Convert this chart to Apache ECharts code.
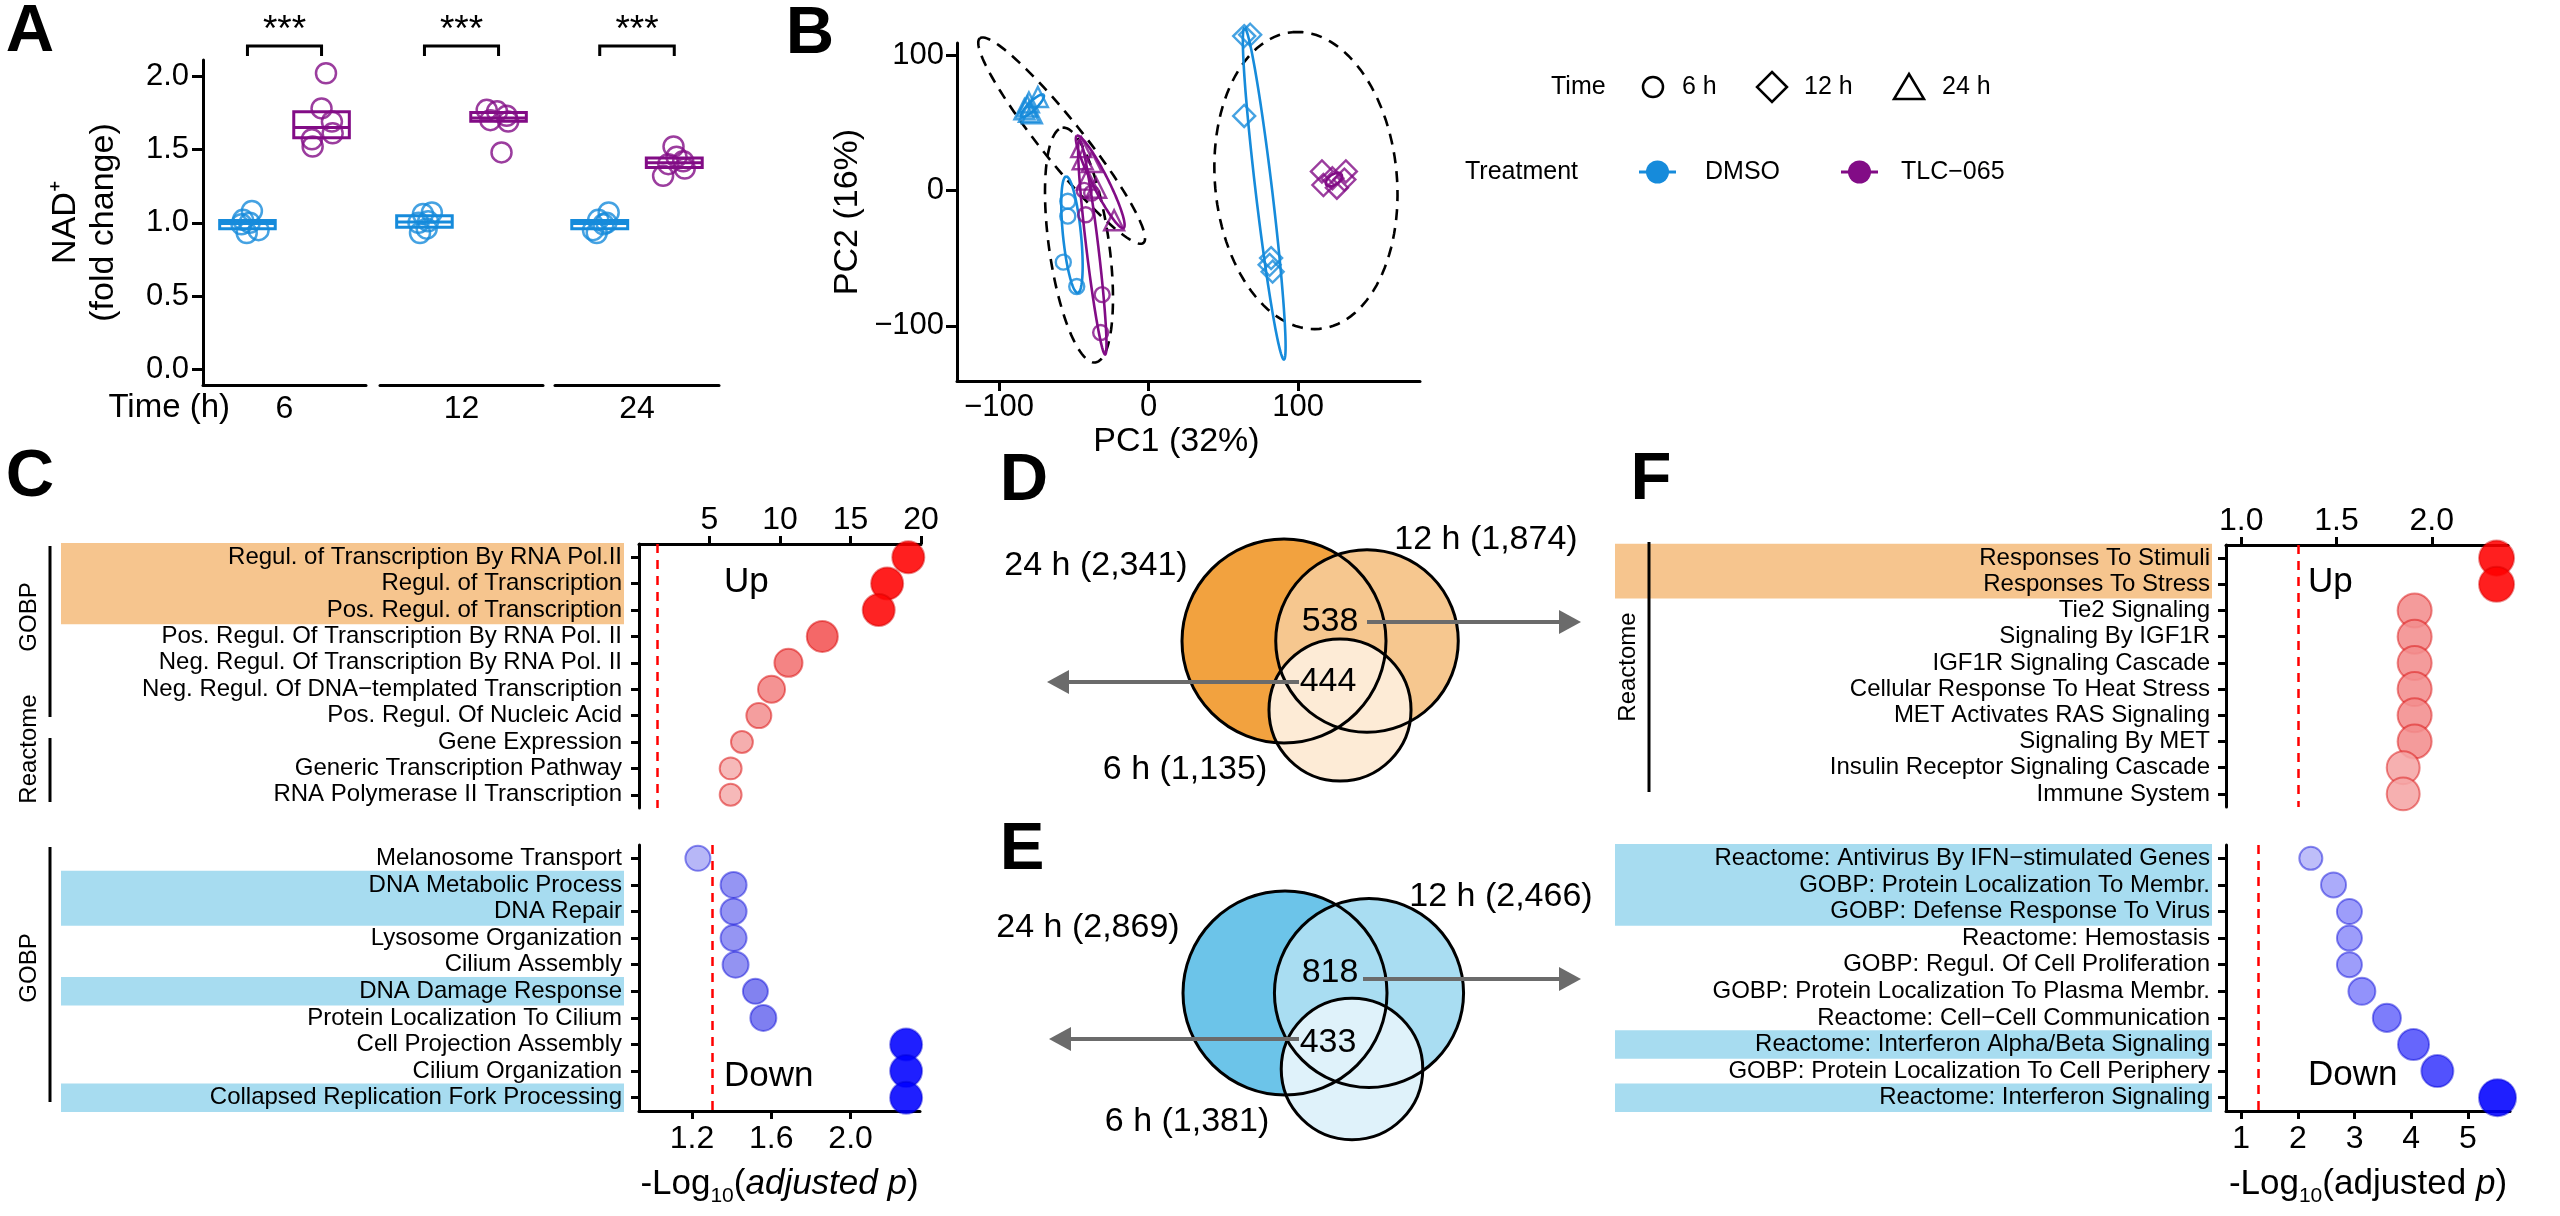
<!DOCTYPE html>
<html><head><meta charset="utf-8">
<script src="https://cdn.jsdelivr.net/npm/echarts@6/dist/echarts.min.js"></script>
<style>html,body{margin:0;padding:0;background:#fff}#c{width:2560px;height:1216px}</style>
</head><body><div id="c"></div>
<script>
// ---------------- DATA ----------------
// Panel A: NAD+ fold change, 6 replicates per group
const timePoints = ['6', '12', '24'];
const nadDMSO = [[1.08, 1.02, 1.00, 0.99, 0.95, 0.93], [1.07, 1.06, 1.01, 1.00, 0.96, 0.93], [1.07, 1.02, 1.00, 0.99, 0.95, 0.93]];
const nadTLC = [[2.02, 1.78, 1.69, 1.61, 1.57, 1.52], [1.77, 1.76, 1.73, 1.70, 1.69, 1.48], [1.52, 1.45, 1.42, 1.40, 1.37, 1.32]];
const jitterDMSO = [[0.06, -0.06, 0.03, -0.08, 0.15, -0.01], [0.10, -0.02, 0.05, -0.08, 0.03, -0.06], [0.12, -0.02, 0.09, 0.05, -0.09, -0.04]];
const jitterTLC = [[0.06, 0.00, 0.14, 0.15, -0.13, -0.12], [-0.16, -0.02, 0.11, -0.11, 0.13, 0.04], [-0.01, 0.03, 0.12, -0.08, 0.14, -0.15]];
const significance = ['***', '***', '***'];

// Panel B: PCA scores
const pcaDMSO6x = [-54, -54, -57, -48], pcaDMSO6y = [-8, -19, -53, -71];
const pcaDMSO12x = [64, 68, 64, 82, 83, 81], pcaDMSO12y = [114, 115, 55, -50, -60, -55];
const pcaDMSO24x = [-81, -80, -74, -80, -83, -78], pcaDMSO24y = [62, 65, 69, 58, 60, 57];
const pcaTLC6x = [-43, -38, -42, -31, -32], pcaTLC6y = [0, -2, -18, -77, -105];
const pcaTLC12x = [116, 132, 117, 126, 123, 131], pcaTLC12y = [14, 14, 4, 2, 9, 8];
const pcaTLC24x = [-45, -44, -38, -41, -35, -23], pcaTLC24y = [32, 23, 21, 8, 2, -22];
// ellipses: [cx, cy, ux, uy, vx, vy, treatment(0 DMSO / 1 TLC)]
const groupEllipses = [
  [-51.2, -32.7, -3.9, 43.0, 6.0, 0.66, 0],
  [77.4, -2.4, -13.2, 122.5, 5.5, 0.72, 0],
  [-77.6, 62.5, 7.4, 8.1, 2.0, -2.2, 0],
  [-37.6, -41.9, -8.6, 79.3, 4.0, 0.52, 1],
  [124, 8, 5, 4, -2, 3, 1],
  [-32.3, 6.3, -15.6, 34.1, 4.75, 2.66, 1]
];
const timeEllipses = [
  [-46.5, -40.4, -11.0, 86.7, 19.9, 3.1],
  [105.3, 7.3, -9.0, 109.6, 60.6, 6.05],
  [-58.1, 36.8, -54.7, 75.6, 11.0, 9.7]
];
const timeLegend = ['6 h', '12 h', '24 h'];
const treatLegend = ['DMSO', 'TLC\u2212065'];

// Panel C
const cUpTerms = ['Regul. of Transcription By RNA Pol.II', 'Regul. of Transcription', 'Pos. Regul. of Transcription',
  'Pos. Regul. Of Transcription By RNA Pol. II', 'Neg. Regul. Of Transcription By RNA Pol. II',
  'Neg. Regul. Of DNA\u2212templated Transcription', 'Pos. Regul. Of Nucleic Acid', 'Gene Expression',
  'Generic Transcription Pathway', 'RNA Polymerase II Transcription'];
const cUpValues = [19.1, 17.6, 17.0, 13.0, 10.6, 9.4, 8.5, 7.3, 6.5, 6.5];
const cUpCounts = [100, 100, 100, 94, 77, 71, 61, 47, 47, 47];
const cUpHighlight = [1, 1, 1, 0, 0, 0, 0, 0, 0, 0];
const cDownTerms = ['Melanosome Transport', 'DNA Metabolic Process', 'DNA Repair', 'Lysosome Organization', 'Cilium Assembly',
  'DNA Damage Response', 'Protein Localization To Cilium', 'Cell Projection Assembly', 'Cilium Organization',
  'Collapsed Replication Fork Processing'];
const cDownValues = [1.23, 1.41, 1.41, 1.41, 1.42, 1.52, 1.56, 2.28, 2.28, 2.28];
const cDownCounts = [61, 66, 66, 66, 66, 61, 66, 100, 100, 100];
const cDownHighlight = [0, 1, 1, 0, 0, 1, 0, 0, 0, 1];

// Panel F
const fUpTerms = ['Responses To Stimuli', 'Responses To Stress', 'Tie2 Signaling', 'Signaling By IGF1R', 'IGF1R Signaling Cascade',
  'Cellular Response To Heat Stress', 'MET Activates RAS Signaling', 'Signaling By MET', 'Insulin Receptor Signaling Cascade', 'Immune System'];
const fUpValues = [2.34, 2.34, 1.91, 1.91, 1.91, 1.91, 1.91, 1.91, 1.85, 1.85];
const fUpCounts = [120, 120, 113, 113, 113, 113, 113, 113, 106, 106];
const fUpHighlight = [1, 1, 0, 0, 0, 0, 0, 0, 0, 0];
const fDownTerms = ['Reactome: Antivirus By IFN\u2212stimulated Genes', 'GOBP: Protein Localization To Membr.', 'GOBP: Defense Response To Virus',
  'Reactome: Hemostasis', 'GOBP: Regul. Of Cell Proliferation', 'GOBP: Protein Localization To Plasma Membr.',
  'Reactome: Cell\u2212Cell Communication', 'Reactome: Interferon Alpha/Beta Signaling', 'GOBP: Protein Localization To Cell Periphery',
  'Reactome: Interferon Signaling'];
const fDownValues = [2.23, 2.63, 2.91, 2.91, 2.91, 3.13, 3.57, 4.04, 4.46, 5.52];
const fDownCounts = [52, 61, 61, 61, 61, 71, 77, 94, 100, 134];
const fDownHighlight = [1, 1, 1, 0, 0, 0, 0, 1, 0, 1];
const sigThreshold = 1.3;

// Panels D / E (Venn)
const vennSets = ['24 h', '12 h', '6 h'];
const vennUpCounts = [2341, 1874, 1135];
const vennUpShared = [538, 444];
const vennDownCounts = [2869, 2466, 1381];
const vennDownShared = [818, 433];

// ---------------- STYLE / LAYOUT ----------------
const FONT = "'Liberation Sans', Arial, Helvetica, sans-serif";
const BLUE = '#168BDB', PURPLE = '#820C86';
const ORANGE_HL = '#F6C58E', BLUE_HL = '#A7DCF0';
const AXL = {show: true, onZero: false, lineStyle: {color: '#000', width: 3}};
const tick = (len, vals) => Object.assign({show: true, length: len, lineStyle: {color: '#000', width: 3}}, vals ? {customValues: vals} : {});
const minusFmt = v => (v < 0 ? '\u2212' + Math.abs(v) : String(v));

function quant(arr, p) {
  const s = [...arr].sort((a, b) => a - b);
  const h = (s.length - 1) * p, lo = Math.floor(h);
  return s[lo] + (h - lo) * (s[Math.min(lo + 1, s.length - 1)] - s[lo]);
}

const grids = [], xAxes = [], yAxes = [], series = [], visualMaps = [];

// ----- Panel A -----
const aGrid = [[203, 163], [380, 163], [555, 164]];
const aMin = -0.106, aMax = 2.11;
aGrid.forEach((g, i) => {
  grids.push({left: g[0], top: 60, width: g[1], height: 325});
  xAxes.push({gridIndex: i, type: 'value', min: 0.4, max: 2.6, axisLine: AXL, axisTick: {show: false},
    axisLabel: {show: false}, splitLine: {show: false},
    name: timePoints[i], nameLocation: 'middle', nameGap: 8,
    nameTextStyle: {fontSize: 32, color: '#000', fontFamily: FONT, verticalAlign: 'top'}});
  if (i === 0) {
    yAxes.push({gridIndex: 0, type: 'value', min: aMin, max: aMax, axisLine: AXL,
      axisTick: tick(11, [0, 0.5, 1, 1.5, 2]),
      axisLabel: {customValues: [0, 0.5, 1, 1.5, 2], formatter: v => v.toFixed(1), fontSize: 31, color: '#000', margin: 14, fontFamily: FONT},
      splitLine: {show: false},
      name: 'NAD\u207A\n(fold change)', nameLocation: 'middle', nameRotate: 90, nameGap: 80,
      nameTextStyle: {fontSize: 34, lineHeight: 38, color: '#000', fontFamily: FONT, align: 'center'}});
  } else {
    yAxes.push({gridIndex: i, type: 'value', min: aMin, max: aMax, show: false});
  }
  const boxData = [
    [1, quant(nadDMSO[i], 0.25), quant(nadDMSO[i], 0.5), quant(nadDMSO[i], 0.75), 0],
    [2, quant(nadTLC[i], 0.25), quant(nadTLC[i], 0.5), quant(nadTLC[i], 0.75), 1]
  ];
  series.push({type: 'custom', xAxisIndex: i, yAxisIndex: i, silent: true, clip: false, data: boxData,
    renderItem: (p, api) => {
      const x = api.value(0), col = api.value(4) ? PURPLE : BLUE;
      const w = api.size([0.75, 0])[0];
      const top = api.coord([x, api.value(3)]), bot = api.coord([x, api.value(1)]), med = api.coord([x, api.value(2)]);
      return {type: 'group', children: [
        {type: 'rect', shape: {x: top[0] - w / 2, y: top[1], width: w, height: bot[1] - top[1]}, style: {fill: 'none', stroke: col, lineWidth: 3}},
        {type: 'line', shape: {x1: med[0] - w / 2, y1: med[1], x2: med[0] + w / 2, y2: med[1]}, style: {stroke: col, lineWidth: 3}}
      ]};
    }});
  series.push({type: 'scatter', xAxisIndex: i, yAxisIndex: i, clip: false, symbol: 'circle', symbolSize: 20,
    data: nadDMSO[i].map((v, k) => [1 + jitterDMSO[i][k], v]),
    itemStyle: {color: 'rgba(0,0,0,0)', borderColor: BLUE, borderWidth: 2.5}});
  series.push({type: 'scatter', xAxisIndex: i, yAxisIndex: i, clip: false, symbol: 'circle', symbolSize: 20,
    data: nadTLC[i].map((v, k) => [2 + jitterTLC[i][k], v]),
    itemStyle: {color: 'rgba(0,0,0,0)', borderColor: PURPLE, borderWidth: 2.5}});
  // significance bracket
  series.push({type: 'custom', xAxisIndex: i, yAxisIndex: i, silent: true, clip: false, data: [[1, 2, i]],
    renderItem: (p, api) => {
      const a = api.coord([api.value(0), 2.205]), b = api.coord([api.value(1), 2.205]);
      const a2 = api.coord([api.value(0), 2.137]), b2 = api.coord([api.value(1), 2.137]);
      const s = api.coord([(api.value(0) + api.value(1)) / 2, 2.31]);
      return {type: 'group', children: [
        {type: 'polyline', shape: {points: [a2, a, b, b2]}, style: {fill: 'none', stroke: '#000', lineWidth: 3}},
        {type: 'text', x: s[0], y: s[1], style: {text: significance[api.value(2)], fontSize: 37, fontFamily: FONT, fill: '#000', align: 'center', verticalAlign: 'middle'}}
      ]};
    }});
});

// ----- Panel B -----
const gB = grids.length;
grids.push({left: 957, top: 43, width: 463, height: 338});
xAxes.push({gridIndex: gB, type: 'value', min: -128.1, max: 181.6, axisLine: AXL, axisTick: tick(10, [-100, 0, 100]),
  axisLabel: {customValues: [-100, 0, 100], formatter: minusFmt, fontSize: 31, color: '#000', margin: 11, fontFamily: FONT},
  splitLine: {show: false}, name: 'PC1 (32%)', nameLocation: 'middle', nameGap: 44,
  nameTextStyle: {fontSize: 34, color: '#000', fontFamily: FONT, padding: [0, 24, 0, 0]}});
yAxes.push({gridIndex: gB, type: 'value', min: -140.8, max: 108.9, axisLine: AXL, axisTick: tick(11, [-100, 0, 100]),
  axisLabel: {customValues: [-100, 0, 100], formatter: minusFmt, fontSize: 31, color: '#000', margin: 13, fontFamily: FONT},
  splitLine: {show: false}, name: 'PC2 (16%)', nameLocation: 'middle', nameRotate: 90, nameGap: 92,
  nameTextStyle: {fontSize: 34, color: '#000', fontFamily: FONT}});
const ellipseItem = (dashed, colorFn) => (p, api) => {
  const v = [0, 1, 2, 3, 4, 5].map(k => api.value(k));
  const pts = [];
  for (let k = 0; k <= 120; k++) {
    const t = 2 * Math.PI * k / 120;
    pts.push(api.coord([v[0] + v[2] * Math.cos(t) + v[4] * Math.sin(t), v[1] + v[3] * Math.cos(t) + v[5] * Math.sin(t)]));
  }
  return {type: 'polyline', shape: {points: pts}, style: {fill: 'none', stroke: colorFn(api), lineWidth: 2.6, lineDash: dashed ? [11, 8] : null}};
};
series.push({type: 'custom', xAxisIndex: gB, yAxisIndex: gB, silent: true, clip: false, data: timeEllipses,
  renderItem: ellipseItem(true, () => '#000'), z: 2});
series.push({type: 'custom', xAxisIndex: gB, yAxisIndex: gB, silent: true, clip: false, data: groupEllipses,
  renderItem: ellipseItem(false, api => (api.value(6) ? PURPLE : BLUE)), z: 2});
const pcaSets = [
  [pcaDMSO6x, pcaDMSO6y, 'circle', BLUE, 15], [pcaDMSO12x, pcaDMSO12y, 'diamond', BLUE, 22], [pcaDMSO24x, pcaDMSO24y, 'triangle', BLUE, 20],
  [pcaTLC6x, pcaTLC6y, 'circle', PURPLE, 15], [pcaTLC12x, pcaTLC12y, 'diamond', PURPLE, 22], [pcaTLC24x, pcaTLC24y, 'triangle', PURPLE, 20]
];
pcaSets.forEach(s => series.push({type: 'scatter', xAxisIndex: gB, yAxisIndex: gB, clip: false, symbol: s[2], symbolSize: s[4],
  data: s[0].map((x, k) => [x, s[1][k]]), itemStyle: {color: 'rgba(0,0,0,0)', borderColor: s[3], borderWidth: 2.4}, z: 3}));

// ----- Panels C and F (dot plots) -----
function dotPanel(cfg) {
  const gi = grids.length;
  grids.push(cfg.grid);
  const xa = {gridIndex: gi, type: 'value', min: cfg.min, max: cfg.max, position: cfg.up ? 'top' : 'bottom',
    axisLine: AXL, axisTick: tick(8, cfg.ticks),
    axisLabel: {customValues: cfg.ticks, formatter: cfg.fmt, fontSize: 32, color: '#000', margin: cfg.up ? 8 : 12, fontFamily: FONT},
    splitLine: {show: false}};
  if (cfg.name) {
    Object.assign(xa, {name: cfg.name, nameLocation: 'middle', nameGap: 50, nameTextStyle: {color: '#000', fontFamily: FONT, rich: {
      a: {fontSize: 35, fontFamily: FONT, color: '#000', lineHeight: 46},
      i: {fontSize: 35, fontFamily: FONT, fontStyle: 'italic', color: '#000', lineHeight: 46},
      s: {fontSize: 21, fontFamily: FONT, color: '#000', lineHeight: 22, verticalAlign: 'bottom'}
    }}});
  }
  xAxes.push(xa);
  const hl = cfg.highlight;
  yAxes.push({gridIndex: gi, type: 'category', data: cfg.terms, inverse: true, axisLine: AXL,
    axisTick: {show: true, alignWithLabel: true, length: 8, lineStyle: {color: '#000', width: 3}},
    axisLabel: {interval: 0, margin: cfg.margin, fontFamily: FONT,
      formatter: (val, idx) => (hl[idx] ? '{h|' + val + '}' : '{n|' + val + '}'),
      rich: {
        h: {backgroundColor: cfg.hlColor, width: cfg.hlWidth, height: 28.5, align: 'right', fontSize: 24, fontFamily: FONT, color: '#000', padding: [0, 2, 0, 0]},
        n: {fontSize: 24, fontFamily: FONT, color: '#000', padding: [0, 2, 0, 0]}
      }},
    splitLine: {show: false}});
  const idx = series.length;
  series.push({type: 'scatter', xAxisIndex: gi, yAxisIndex: gi, clip: false, z: 3,
    data: cfg.values.map((v, i) => [v, i, cfg.counts[i]]),
    symbolSize: d => 3.2 * Math.sqrt(d[2]),
    itemStyle: {opacity: 0.88, borderColor: cfg.border, borderWidth: 2},
    markLine: {silent: true, symbol: ['none', 'none'], label: {show: false}, animation: false,
      lineStyle: {color: '#FF0000', type: [9, 7], width: 2.5}, data: [{xAxis: sigThreshold}]}});
  visualMaps.push({type: 'continuous', show: false, seriesIndex: idx, dimension: 0, min: cfg.cmin, max: cfg.cmax, inRange: {color: cfg.colors}});
}
dotPanel({grid: {left: 639, top: 544, width: 282, height: 264}, up: true, min: 0, max: 20, ticks: [5, 10, 15, 20], fmt: v => String(v),
  terms: cUpTerms, values: cUpValues, counts: cUpCounts, highlight: cUpHighlight, hlColor: ORANGE_HL, hlWidth: 561, margin: 15,
  border: 'rgba(215,0,0,0.55)', cmin: 6.5, cmax: 17.2, colors: ['#F5AFAF', '#F27A7A', '#F24A4A', '#FF0000']});
dotPanel({grid: {left: 639, top: 845, width: 281, height: 266}, up: false, min: 0.933, max: 2.35, ticks: [1.2, 1.6, 2.0], fmt: v => v.toFixed(1),
  terms: cDownTerms, values: cDownValues, counts: cDownCounts, highlight: cDownHighlight, hlColor: BLUE_HL, hlWidth: 561, margin: 15,
  border: 'rgba(0,0,215,0.5)', cmin: 1.23, cmax: 2.28, colors: ['#ADADF6', '#7474EE', '#5A5AF0', '#2E2EF6', '#0000FF'],
  name: '{a|-Log}{s|10}{a|(}{i|adjusted p}{a|)}'});
dotPanel({grid: {left: 2226, top: 545, width: 282, height: 262}, up: true, min: 0.92, max: 2.40, ticks: [1.0, 1.5, 2.0], fmt: v => v.toFixed(1),
  terms: fUpTerms, values: fUpValues, counts: fUpCounts, highlight: fUpHighlight, hlColor: ORANGE_HL, hlWidth: 595, margin: 14,
  border: 'rgba(215,0,0,0.5)', cmin: 1.85, cmax: 2.34, colors: ['#F5A5A5', '#F07575', '#F55A5A', '#FA3030', '#FF0000']});
dotPanel({grid: {left: 2226, top: 845, width: 284, height: 266}, up: false, min: 0.735, max: 5.74, ticks: [1, 2, 3, 4, 5], fmt: v => String(v),
  terms: fDownTerms, values: fDownValues, counts: fDownCounts, highlight: fDownHighlight, hlColor: BLUE_HL, hlWidth: 595, margin: 14,
  border: 'rgba(0,0,215,0.5)', cmin: 2.23, cmax: 5.52, colors: ['#B5B5F8', '#0000FF'],
  name: '{a|-Log}{s|10}{a|(adjusted }{i|p}{a|)}'});

// ----- Panels D / E (Venn) -----
const vennLayoutD = [[284, 181], [367, 181], [340, 250]];
const vennLayoutE = [[285, 173], [369, 173], [352, 249]];
function venn(grid, layout, counts, colors) {
  const gi = grids.length;
  grids.push(grid);
  xAxes.push({gridIndex: gi, type: 'value', min: 0, max: grid.width, show: false});
  yAxes.push({gridIndex: gi, type: 'value', min: 0, max: grid.height, inverse: true, show: false});
  const nMax = Math.max(...counts);
  const data = counts.map((n, i) => [layout[i][0], layout[i][1], n, i]);
  ['fill', 'line'].forEach(mode => series.push({type: 'custom', xAxisIndex: gi, yAxisIndex: gi, silent: true, clip: false,
    z: mode === 'fill' ? 1 : 4, data,
    renderItem: (p, api) => {
      const c = api.coord([api.value(0), api.value(1)]);
      const r = api.size([102 * Math.sqrt(api.value(2) / nMax), 0])[0];
      return {type: 'circle', shape: {cx: c[0], cy: c[1], r},
        style: mode === 'fill' ? {fill: colors[api.value(3)]} : {fill: 'none', stroke: '#000', lineWidth: 3}};
    }}));
}
venn({left: 1000, top: 460, width: 640, height: 380}, vennLayoutD, vennUpCounts, ['#F2A23F', '#F6C78F', '#FDEBD6']);
venn({left: 1000, top: 820, width: 640, height: 396}, vennLayoutE, vennDownCounts, ['#6CC4E9', '#A9DDF2', '#DFF2FA']);

// ---------------- GRAPHIC (labels, legend, annotations) ----------------
const T = (text, x, y, size, align, extra) => Object.assign({type: 'text', x, y, z: 100, silent: true,
  style: Object.assign({text, fill: '#000', fontSize: size, fontFamily: FONT, align: align || 'center', verticalAlign: 'middle'}, extra || {})});
const L = (x1, y1, x2, y2, color, w) => ({type: 'line', z: 100, silent: true, shape: {x1, y1, x2, y2}, style: {stroke: color || '#000', lineWidth: w || 3}});
const P = (points, style) => ({type: 'polygon', z: 100, silent: true, shape: {points}, style});
const fmtN = n => n.toLocaleString('en-US');
const ARROW = '#6B6B6B';
const arrow = (x1, y, tip) => {
  const dir = tip > x1 ? 1 : -1;
  return [L(x1, y, tip - dir * 20, y, ARROW, 4), P([[tip, y], [tip - dir * 22, y - 12], [tip - dir * 22, y + 12]], {fill: ARROW})];
};
const bold = {fontWeight: 'bold'};
const graphic = [
  T('A', 30, 33, 67, 'center', bold), T('B', 810, 35, 67, 'center', bold), T('C', 30, 478, 67, 'center', bold),
  T('D', 1024, 482, 67, 'center', bold), T('E', 1022, 851, 67, 'center', bold), T('F', 1651, 481, 67, 'center', bold),
  T('Time (h)', 230, 408, 33, 'right'),
  // legend of B
  T('Time', 1551, 87, 25, 'left'),
  {type: 'circle', z: 100, shape: {cx: 1653, cy: 87, r: 10}, style: {fill: 'none', stroke: '#000', lineWidth: 2.5}},
  T(timeLegend[0], 1682, 87, 25, 'left'),
  P([[1772, 72], [1787, 87], [1772, 102], [1757, 87]], {fill: 'none', stroke: '#000', lineWidth: 2.5}),
  T(timeLegend[1], 1804, 87, 25, 'left'),
  P([[1909, 74], [1924, 99], [1894, 99]], {fill: 'none', stroke: '#000', lineWidth: 2.5}),
  T(timeLegend[2], 1942, 87, 25, 'left'),
  T('Treatment', 1465, 172, 25, 'left'),
  L(1639, 172, 1676, 172, BLUE, 3), {type: 'circle', z: 100, shape: {cx: 1657.5, cy: 172, r: 11.5}, style: {fill: BLUE}},
  T(treatLegend[0], 1705, 172, 25, 'left'),
  L(1841, 172, 1878, 172, PURPLE, 3), {type: 'circle', z: 100, shape: {cx: 1859.5, cy: 172, r: 11.5}, style: {fill: PURPLE}},
  T(treatLegend[1], 1901, 172, 25, 'left'),
  // database brackets
  L(50, 546, 50, 717), L(50, 738, 50, 802), T('GOBP', 29, 617, 24, 'center'), T('Reactome', 29, 749, 24, 'center'),
  L(50, 847, 50, 1102), T('GOBP', 29, 968, 24, 'center'),
  L(1649, 542, 1649, 792), T('Reactome', 1628, 667, 24, 'center'),
  T('Up', 724, 582, 35, 'left'), T('Down', 724, 1076, 35, 'left'),
  T('Up', 2308, 582, 35, 'left'), T('Down', 2308, 1075, 35, 'left'),
  // Venn labels
  T(vennSets[0] + ' (' + fmtN(vennUpCounts[0]) + ')', 1096, 566, 34), T(vennSets[1] + ' (' + fmtN(vennUpCounts[1]) + ')', 1486, 540, 34),
  T(vennSets[2] + ' (' + fmtN(vennUpCounts[2]) + ')', 1185, 770, 34),
  T(String(vennUpShared[0]), 1330, 622, 34), T(String(vennUpShared[1]), 1328, 682, 34),
  T(vennSets[0] + ' (' + fmtN(vennDownCounts[0]) + ')', 1088, 928, 34), T(vennSets[1] + ' (' + fmtN(vennDownCounts[1]) + ')', 1501, 897, 34),
  T(vennSets[2] + ' (' + fmtN(vennDownCounts[2]) + ')', 1187, 1122, 34),
  T(String(vennDownShared[0]), 1330, 973, 34), T(String(vennDownShared[1]), 1328, 1043, 34),
  ...arrow(1367, 622, 1581), ...arrow(1299, 682, 1047), ...arrow(1363, 979, 1581), ...arrow(1299, 1039, 1049)
];
// rotate the database labels
graphic.forEach(g => { if (g.type === 'text' && (g.style.text === 'GOBP' || g.style.text === 'Reactome')) g.rotation = Math.PI / 2; });

const chart = echarts.init(document.getElementById('c'), null, {renderer: 'canvas', width: 2560, height: 1216});
chart.setOption({
  animation: false,
  backgroundColor: '#fff',
  textStyle: {fontFamily: FONT, color: '#000'},
  grid: grids.map(g => Object.assign({containLabel: false, outerBoundsMode: 'none'}, g)),
  xAxis: xAxes, yAxis: yAxes, series, visualMap: visualMaps, graphic
});
</script></body></html>
